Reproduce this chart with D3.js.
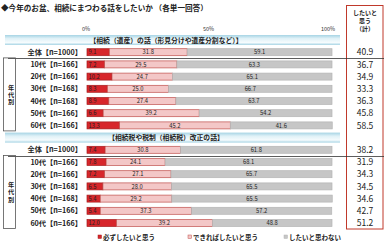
<!DOCTYPE html>
<html>
<head>
<meta charset="utf-8">
<script src="https://cdn.jsdelivr.net/npm/d3@7"></script>
<style>
  body { margin: 0; background: #fff; }
  svg { display: block; font-family: "Noto Sans CJK JP", "Noto Sans", sans-serif; }
</style>
</head>
<body>
<svg id="chart" width="384" height="247"></svg>
<script>
'use strict';

// data
var title = "◆今年のお盆、相続にまつわる話をしたいか （各単一回答）";
var seriesNames = ["必ずしたいと思う", "できればしたいと思う", "したいと思わない"];
var topics = ["【相続（遺産）の話（形見分けや遺産分割など）】", "【相続税や税制（相続税）改正の話】"];
var groups = ["全体", "10代", "20代", "30代", "40代", "50代", "60代"];
var groupN = [1000, 166, 166, 168, 168, 166, 166];
var ticks = [0, 50, 100];

// topic 1: 相続（遺産）の話
var inheritMust = [9.1, 7.2, 10.2, 8.3, 8.9, 6.6, 13.3];
var inheritMaybe = [31.8, 29.5, 24.7, 25.0, 27.4, 39.2, 45.2];
var inheritNo = [59.1, 63.3, 65.1, 66.7, 63.7, 54.2, 41.6];
var inheritTotal = [40.9, 36.7, 34.9, 33.3, 36.3, 45.8, 58.5];

// topic 2: 相続税の話
var taxMust = [7.4, 7.8, 7.2, 6.5, 5.4, 5.4, 12.0];
var taxMaybe = [30.8, 24.1, 27.1, 28.0, 29.2, 37.3, 39.2];
var taxNo = [61.8, 68.1, 65.7, 65.5, 65.5, 57.2, 48.8];
var taxTotal = [38.2, 31.9, 34.3, 34.5, 34.6, 42.7, 51.2];

var colors = ["#d7262b", "#f3c7c7", "#c6c6c6"];
var strokes = ["#a51c1c", "#c0504d", "#b5b5b5"];

var svg = d3.select("#chart");

// build row list (header + 7 rows per topic)
var sections = [
  { topic: topics[0], must: inheritMust, maybe: inheritMaybe, no: inheritNo, total: inheritTotal },
  { topic: topics[1], must: taxMust, maybe: taxMaybe, no: taxNo, total: taxTotal }
];
var rows = [];
sections.forEach(function(s, si) {
  rows.push({ key: "h" + si, header: true, text: s.topic });
  groups.forEach(function(g, gi) {
    rows.push({
      key: si + "-" + gi, header: false, section: si, gi: gi,
      label: g + "【n=" + groupN[gi] + "】",
      must: s.must[gi], maybe: s.maybe[gi], no: s.no[gi], total: s.total[gi]
    });
  });
});

var x = d3.scaleLinear().domain([0, 100]).range([87, 332]);
var y = d3.scalePoint().domain(rows.map(function(d) { return d.key; })).range([40, 223]);
var barH = 7;

var defs = svg.append("defs");
var grad = defs.append("linearGradient").attr("id", "hdr").attr("x1", 0).attr("y1", 0).attr("x2", 0).attr("y2", 1);
grad.append("stop").attr("offset", "0%").attr("stop-color", "#a6d4e4");
grad.append("stop").attr("offset", "35%").attr("stop-color", "#dff1f7");
grad.append("stop").attr("offset", "75%").attr("stop-color", "#f5fbfd");
grad.append("stop").attr("offset", "100%").attr("stop-color", "#a6d4e4");

// title
svg.append("text")
  .attr("x", 1).attr("y", 11)
  .attr("font-size", 7.6).attr("font-weight", "bold").attr("fill", "#222")
  .text(title);

// axis labels
svg.append("g").selectAll("text")
  .data(ticks)
  .enter().append("text")
  .attr("x", function(d) { return x(d) - (d === 100 ? 4 : 1); })
  .attr("y", 31)
  .attr("text-anchor", "middle")
  .attr("font-size", 5.5).attr("fill", "#333")
  .text(function(d) { return d + "%"; });

// right box
svg.append("rect")
  .attr("x", 346.5).attr("y", 5.5).attr("width", 36.5).attr("height", 223.5)
  .attr("fill", "none").attr("stroke", "#c0392b").attr("stroke-width", 1);
svg.append("g").selectAll("text")
  .data(["したいと", "思う", "（計）"])
  .enter().append("text")
  .attr("x", 365).attr("y", function(d, i) { return 15 + i * 8; })
  .attr("text-anchor", "middle")
  .attr("font-size", 6).attr("font-weight", "bold").attr("fill", "#222")
  .text(function(d) { return d; });

// header bands
var headers = rows.filter(function(d) { return d.header; });
svg.append("g").selectAll("rect")
  .data(headers)
  .enter().append("rect")
  .attr("x", 5).attr("width", 335)
  .attr("y", function(d) { return y(d.key) - 5; })
  .attr("height", 10)
  .attr("fill", "url(#hdr)");
svg.append("g").selectAll("text")
  .data(headers)
  .enter().append("text")
  .attr("x", 166).attr("y", function(d) { return y(d.key) + 2.5; })
  .attr("text-anchor", "middle")
  .attr("font-size", 6.8).attr("font-weight", "bold").attr("fill", "#222")
  .text(function(d) { return d.text; });

var dataRows = rows.filter(function(d) { return !d.header; });

// separator lines below 全体 rows
svg.append("g").selectAll("line")
  .data(dataRows.filter(function(d) { return d.gi === 0; }))
  .enter().append("line")
  .attr("x1", 8).attr("x2", 384)
  .attr("y1", function(d) { return Math.round(y(d.key) + 6) + 0.5; })
  .attr("y2", function(d) { return Math.round(y(d.key) + 6) + 0.5; })
  .attr("stroke", "#333").attr("stroke-width", 0.8);

// 年代別 boxes with vertical text
[0, 1].forEach(function(si) {
  var top = y(si + "-1") - 6.5, bot = y(si + "-6") + 5.5;
  svg.append("rect")
    .attr("x", 3.5).attr("y", top).attr("width", 12).attr("height", bot - top)
    .attr("fill", "none").attr("stroke", "#555").attr("stroke-width", 0.8);
  svg.append("text")
    .attr("x", 11).attr("y", (top + bot) / 2 + 0.5)
    .attr("writing-mode", "vertical-rl")
    .attr("text-anchor", "middle")
    .attr("letter-spacing", 1)
    .attr("font-size", 6.2).attr("font-weight", "bold").attr("fill", "#222")
    .text("年代別");
});

// row labels
svg.append("g").selectAll("text")
  .data(dataRows)
  .enter().append("text")
  .attr("x", 82).attr("y", function(d) { return y(d.key) + 2.6; })
  .attr("text-anchor", "end")
  .attr("font-size", 7.2).attr("font-weight", "bold").attr("fill", "#222")
  .text(function(d) { return d.label; });

// stacked bars
var stack = d3.stack().keys(["must", "maybe", "no"]);
var layers = stack(dataRows);

var layerG = svg.append("g").selectAll("g")
  .data(layers)
  .enter().append("g");

layerG.selectAll("rect")
  .data(function(d) { return d.map(function(v) { return { v: v, idx: d.index }; }); })
  .enter().append("rect")
  .attr("x", function(d) { return x(d.v[0]); })
  .attr("width", function(d) { return x(d.v[1]) - x(d.v[0]); })
  .attr("y", function(d) { return y(d.v.data.key) - barH / 2; })
  .attr("height", barH)
  .attr("fill", function(d) { return colors[d.idx]; })
  .attr("stroke", function(d) { return strokes[d.idx]; })
  .attr("stroke-width", 0.7);

layerG.selectAll("text")
  .data(function(d) { return d.map(function(v) { return { v: v, idx: d.index }; }); })
  .enter().append("text")
  .attr("x", function(d) {
    return d.idx === 0 ? x(d.v[0]) + 1.5 : (x(d.v[0]) + x(d.v[1])) / 2;
  })
  .attr("y", function(d) { return y(d.v.data.key) + 2.2; })
  .attr("text-anchor", function(d) { return d.idx === 0 ? "start" : "middle"; })
  .attr("font-size", 5.8).attr("fill", "#222")
  .text(function(d) { return (d.v[1] - d.v[0]).toFixed(1); });

// totals in right box
svg.append("g").selectAll("text")
  .data(dataRows)
  .enter().append("text")
  .attr("x", 365).attr("y", function(d) { return y(d.key) + 3.2; })
  .attr("text-anchor", "middle")
  .attr("font-size", 8.5).attr("fill", "#222")
  .text(function(d) { return d.total.toFixed(1); });

// legend
var legendX = [98, 188, 284];
var legend = svg.append("g").selectAll("g")
  .data(seriesNames)
  .enter().append("g")
  .attr("transform", function(d, i) { return "translate(" + legendX[i] + ",238)"; });
legend.append("rect")
  .attr("x", 0).attr("y", -3).attr("width", 3.5).attr("height", 3.5)
  .attr("fill", function(d, i) { return colors[i]; })
  .attr("stroke", function(d, i) { return strokes[i]; })
  .attr("stroke-width", 0.5);
legend.append("text")
  .attr("x", 5).attr("y", 1.5)
  .attr("font-size", 6.5).attr("font-weight", "bold").attr("fill", "#222")
  .text(function(d) { return d; });
</script>
</body>
</html>
